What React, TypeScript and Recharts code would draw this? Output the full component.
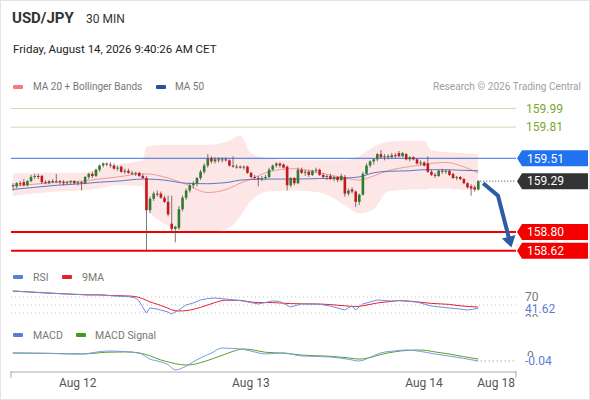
import React from 'react';
import {
  Area, Bar, ComposedChart, Line, ReferenceLine, XAxis, YAxis,
} from 'recharts';

const FONT = 'Roboto, "Liberation Sans", Arial, sans-serif';
const SLOTS = 140;
const X_DOMAIN: [number, number] = [-0.5, SLOTS - 0.5];
const PRICE_DOMAIN: [number, number] = [158.54, 160.11];

// 30 min candles, [open, high, low, close]
const candles: number[][] = [
  [159.24, 159.27, 159.20, 159.25], [159.24, 159.28, 159.22, 159.27], [159.27, 159.29, 159.24, 159.26],
  [159.28, 159.31, 159.24, 159.25], [159.25, 159.30, 159.24, 159.29], [159.29, 159.35, 159.28, 159.33],
  [159.33, 159.36, 159.31, 159.34], [159.34, 159.36, 159.31, 159.33], [159.34, 159.35, 159.26, 159.28],
  [159.28, 159.30, 159.26, 159.27], [159.27, 159.30, 159.26, 159.29], [159.29, 159.31, 159.27, 159.28],
  [159.28, 159.36, 159.27, 159.29], [159.29, 159.30, 159.26, 159.28], [159.28, 159.30, 159.25, 159.27],
  [159.27, 159.29, 159.26, 159.28], [159.28, 159.30, 159.26, 159.29], [159.29, 159.30, 159.26, 159.27],
  [159.27, 159.29, 159.25, 159.28], [159.28, 159.29, 159.20, 159.27], [159.27, 159.34, 159.26, 159.33],
  [159.33, 159.37, 159.31, 159.36], [159.36, 159.38, 159.32, 159.34], [159.34, 159.41, 159.33, 159.40],
  [159.40, 159.45, 159.38, 159.44], [159.44, 159.47, 159.42, 159.46], [159.46, 159.47, 159.43, 159.45],
  [159.45, 159.47, 159.42, 159.44], [159.44, 159.46, 159.40, 159.41], [159.41, 159.44, 159.39, 159.42],
  [159.43, 159.44, 159.37, 159.38], [159.38, 159.41, 159.36, 159.39], [159.39, 159.41, 159.36, 159.37],
  [159.37, 159.39, 159.35, 159.36], [159.36, 159.38, 159.34, 159.37], [159.37, 159.38, 159.33, 159.34],
  [159.34, 159.36, 159.31, 159.32], [159.32, 159.34, 158.62, 159.01], [159.01, 159.14, 158.98, 159.12],
  [159.12, 159.19, 159.10, 159.17], [159.17, 159.20, 159.14, 159.16], [159.17, 159.19, 159.12, 159.13],
  [159.13, 159.15, 159.08, 159.09], [159.09, 159.15, 158.95, 158.97], [158.88, 159.15, 158.80, 158.83],
  [158.83, 158.86, 158.70, 158.85], [158.84, 159.05, 158.82, 159.02], [159.02, 159.15, 159.00, 159.13],
  [159.13, 159.22, 159.11, 159.20], [159.20, 159.27, 159.18, 159.25], [159.25, 159.29, 159.22, 159.27],
  [159.27, 159.33, 159.24, 159.32], [159.32, 159.40, 159.30, 159.38], [159.38, 159.46, 159.36, 159.44],
  [159.44, 159.55, 159.42, 159.51], [159.51, 159.53, 159.46, 159.48], [159.48, 159.52, 159.46, 159.50],
  [159.50, 159.52, 159.47, 159.49], [159.49, 159.52, 159.47, 159.50], [159.50, 159.52, 159.48, 159.49],
  [159.49, 159.50, 159.43, 159.44], [159.44, 159.53, 159.42, 159.43], [159.43, 159.45, 159.41, 159.43],
  [159.43, 159.44, 159.41, 159.42], [159.42, 159.44, 159.40, 159.43], [159.43, 159.44, 159.36, 159.37],
  [159.37, 159.38, 159.32, 159.33], [159.33, 159.35, 159.30, 159.32], [159.32, 159.34, 159.24, 159.31],
  [159.31, 159.34, 159.29, 159.32], [159.32, 159.35, 159.30, 159.33], [159.33, 159.42, 159.32, 159.40],
  [159.40, 159.45, 159.39, 159.44], [159.44, 159.47, 159.42, 159.46], [159.46, 159.47, 159.42, 159.44],
  [159.45, 159.46, 159.41, 159.42], [159.43, 159.44, 159.20, 159.25], [159.25, 159.33, 159.23, 159.32],
  [159.32, 159.33, 159.25, 159.27], [159.27, 159.42, 159.26, 159.40], [159.40, 159.42, 159.36, 159.37],
  [159.37, 159.40, 159.34, 159.38], [159.38, 159.40, 159.33, 159.35], [159.35, 159.40, 159.34, 159.39],
  [159.39, 159.42, 159.37, 159.40], [159.40, 159.41, 159.34, 159.35], [159.35, 159.37, 159.31, 159.33],
  [159.33, 159.35, 159.30, 159.34], [159.34, 159.36, 159.30, 159.31], [159.31, 159.34, 159.29, 159.33],
  [159.33, 159.34, 159.28, 159.30], [159.30, 159.36, 159.29, 159.34], [159.33, 159.35, 159.14, 159.17],
  [159.17, 159.22, 159.15, 159.20], [159.21, 159.23, 159.17, 159.19], [159.19, 159.20, 159.04, 159.09],
  [159.09, 159.17, 159.06, 159.16], [159.16, 159.38, 159.15, 159.36], [159.36, 159.46, 159.35, 159.44],
  [159.44, 159.49, 159.42, 159.48], [159.48, 159.51, 159.45, 159.50], [159.50, 159.56, 159.48, 159.55],
  [159.55, 159.59, 159.51, 159.52], [159.52, 159.55, 159.49, 159.53], [159.53, 159.55, 159.50, 159.52],
  [159.52, 159.56, 159.51, 159.54], [159.54, 159.56, 159.51, 159.53], [159.56, 159.58, 159.52, 159.53],
  [159.53, 159.57, 159.52, 159.56], [159.55, 159.56, 159.49, 159.50], [159.50, 159.53, 159.48, 159.52],
  [159.52, 159.53, 159.49, 159.50], [159.50, 159.51, 159.45, 159.46], [159.46, 159.49, 159.44, 159.47],
  [159.47, 159.48, 159.43, 159.44], [159.46, 159.53, 159.37, 159.38], [159.38, 159.40, 159.34, 159.35],
  [159.35, 159.37, 159.32, 159.34], [159.34, 159.40, 159.33, 159.39], [159.39, 159.41, 159.36, 159.38],
  [159.38, 159.40, 159.36, 159.39], [159.39, 159.40, 159.34, 159.35], [159.36, 159.37, 159.31, 159.32],
  [159.32, 159.34, 159.30, 159.33], [159.33, 159.34, 159.30, 159.31], [159.31, 159.32, 159.26, 159.27],
  [159.27, 159.28, 159.22, 159.23], [159.24, 159.26, 159.15, 159.22], [159.23, 159.25, 159.19, 159.21],
  [159.21, 159.30, 159.20, 159.29],
];

// MA 20 + Bollinger Bands and MA 50, read at these candle positions
const bandIdx = [0, 6, 12, 19, 24, 29, 36, 37, 42, 48, 54, 57, 60, 63, 66, 71, 78, 85, 92, 96, 100, 104, 110, 114, 116, 120, 124, 129];
const bbUpper = [159.36, 159.37, 159.37, 159.37, 159.41, 159.45, 159.49, 159.62, 159.64, 159.64, 159.64, 159.65, 159.68, 159.73,
  159.56, 159.51, 159.49, 159.49, 159.49, 159.53, 159.62, 159.67, 159.68, 159.68, 159.59, 159.57, 159.56, 159.55];
const bbLower = [159.15, 159.17, 159.19, 159.20, 159.22, 159.25, 159.24, 159.05, 158.88, 158.81, 158.81, 158.81, 158.84, 158.95,
  159.10, 159.19, 159.20, 159.18, 159.06, 158.98, 159.02, 159.19, 159.21, 159.21, 159.22, 159.22, 159.21, 159.20];
const ma20 = [159.245, 159.26, 159.28, 159.29, 159.31, 159.33, 159.36, 159.36, 159.33, 159.26, 159.18, 159.19, 159.22, 159.27,
  159.31, 159.38, 159.41, 159.37, 159.32, 159.30, 159.34, 159.39, 159.43, 159.45, 159.46, 159.47, 159.44, 159.37];
const ma50 = [159.21, 159.23, 159.25, 159.265, 159.28, 159.29, 159.31, 159.31, 159.30, 159.27, 159.265, 159.27, 159.28, 159.30,
  159.305, 159.31, 159.31, 159.315, 159.32, 159.33, 159.37, 159.385, 159.39, 159.40, 159.40, 159.40, 159.395, 159.39];

const resistances = [159.99, 159.81];
const pivot = 159.51;
const lastPrice = 159.29;
const supports = [158.8, 158.62];

const arrowIdx = [130.4, 134.5, 137.6];
const arrowPrice = [159.27, 159.15, 158.735];

const rsiIdx = [0, 7, 15, 21, 24, 28, 32, 34, 35, 37, 38, 40, 41, 43, 44, 46, 48, 50, 52, 54, 56, 59, 63, 65, 68, 72, 74, 77,
  80, 85, 88, 92, 94, 95, 97, 101, 105, 107, 112, 116, 121, 124, 126, 129];
const rsiValues = [85, 81, 77.5, 75, 76, 72.5, 71, 67.5, 60, 30, 42.5, 40, 37.5, 32.5, 27.5, 37.5, 50, 55, 62.5, 66, 67.5, 65, 61,
  58, 52.5, 60, 59, 45, 52.5, 52, 47.5, 37.5, 47.5, 37.5, 52.5, 62.5, 60, 61, 57.5, 47.5, 42.5, 40, 37.5, 41.62];
const rsiMa = [85, 81.5, 77.5, 75.5, 75, 73.5, 72.5, 71, 69, 62, 58, 52, 49, 42, 38, 35, 36, 39, 44, 50, 56, 62, 61.5, 59, 56, 56,
  55, 53.5, 53, 52.5, 51, 48, 46.5, 46, 48, 55, 59, 61, 58, 54, 51.5, 48, 46.5, 45];
const rsiLast = 41.62;

const macdIdx = [0, 10, 19, 26, 31, 35, 38, 41, 43, 45, 48, 50, 52, 55, 58, 61, 64, 67, 70, 75, 80, 88, 93, 96, 100, 102, 106,
  109, 113, 117, 121, 125, 129];
const macdValues = [0.006, 0.003, 0, 0.017, 0.014, 0.006, -0.029, -0.045, -0.06, -0.091, -0.07, -0.045, -0.023, 0.005, 0.034,
  0.032, 0.026, 0.012, 0, 0.006, -0.011, -0.017, -0.03, -0.04, -0.01, 0.006, 0.018, 0.023, 0.015, 0, -0.012, -0.025, -0.04];
const macdSignal = [0.006, 0.004, 0, 0.01, 0.012, 0.006, -0.01, -0.034, -0.045, -0.055, -0.063, -0.06, -0.05, -0.03, -0.008,
  0.015, 0.029, 0.022, 0.01, 0.005, -0.006, -0.013, -0.022, -0.029, -0.015, -0.003, 0.013, 0.02, 0.023, 0.012, 0, -0.015, -0.029];
const macdLast = -0.04;

const dateTicks = [18, 66, 114, 134];
const dateLabels = ['Aug 12', 'Aug 13', 'Aug 14', 'Aug 18'];

const candleRows = Array.from({ length: SLOTS }, (_, i) => {
  const c = candles[i];
  return c ? { i, o: c[0], h: c[1], l: c[2], c: c[3] } : { i };
});
const bandRows = bandIdx.map((i, k) => ({
  i, up: bbUpper[k], lo: bbLower[k], ma20: ma20[k], ma50: ma50[k],
}));
const arrowRows = arrowIdx.map((i, k) => ({ i, p: arrowPrice[k] }));
const rsiRows = rsiIdx.map((i, k) => ({ i, rsi: rsiValues[k], ma: rsiMa[k] }));
const macdRows = macdIdx.map((i, k) => ({ i, macd: macdValues[k], signal: macdSignal[k] }));

const MAIN_MARGIN = { top: 95, right: 75, bottom: 7, left: 10 };

function Candle(props: any) {
  const { x, y, width, height, payload } = props;
  if (payload == null || payload.h == null) return null;
  const { o, h, l, c } = payload;
  const span = h - l || 1;
  const py = (v: number) => y + ((h - v) / span) * height;
  const cx = x + width / 2;
  const top = py(Math.max(o, c));
  const bot = py(Math.min(o, c));
  return (
    <g>
      <line x1={cx} x2={cx} y1={y} y2={y + height} stroke="#555" strokeWidth={0.8} />
      <rect x={cx - 1.3} y={top} width={2.6} height={Math.max(bot - top, 1)} fill={c >= o ? '#2e7d2e' : '#c8161d'} />
    </g>
  );
}

function PriceTag({ viewBox, text, bg }: any) {
  if (!viewBox) return null;
  const x0 = viewBox.x + viewBox.width + 1;
  const y = viewBox.y;
  const pts = `${x0},${y} ${x0 + 5},${y - 8} ${x0 + 71},${y - 8} ${x0 + 71},${y + 8} ${x0 + 5},${y + 8}`;
  return (
    <g>
      <polygon points={pts} fill={bg} />
      <text x={x0 + 10} y={y} dy="0.36em" fill="#fff" fontSize={12} fontFamily={FONT}>{text}</text>
    </g>
  );
}

function SideText({ viewBox, text }: any) {
  if (!viewBox) return null;
  return (
    <text x={viewBox.x + viewBox.width + 10} y={viewBox.y} dy="0.36em" fill="#78a82e" fontSize={12} fontFamily={FONT}>
      {text}
    </text>
  );
}

function ArrowHead(props: any) {
  const { cx, cy, index, points } = props;
  if (points == null || index !== points.length - 1) return null;
  const prev = points[index - 1];
  const ang = Math.atan2(cy - prev.y, cx - prev.x);
  const tipX = cx + Math.cos(ang) * 9;
  const tipY = cy + Math.sin(ang) * 9;
  const nx = -Math.sin(ang) * 7;
  const ny = Math.cos(ang) * 7;
  const bx = cx - Math.cos(ang) * 2;
  const by = cy - Math.sin(ang) * 2;
  return <polygon points={`${tipX},${tipY} ${bx + nx},${by + ny} ${bx - nx},${by - ny}`} fill="#2d5ca6" />;
}

function RsiTick({ x, y, payload }: any) {
  const v = payload.value;
  if (Math.abs(v - rsiLast) < 0.001) {
    return <text x={x + 1} y={y} dy="0.36em" fill="#5b7bd5" fontSize={12} fontFamily={FONT}>{v.toFixed(2)}</text>;
  }
  return <text x={x + 1} y={v === 30 ? y + 6 : y} dy="0.36em" fill="#777" fontSize={12} fontFamily={FONT}>{v}</text>;
}

function MacdTick({ x, y, payload }: any) {
  const v = payload.value;
  if (v === 0) {
    return <text x={x + 3} y={y + 2} dy="0.36em" fill="#777" fontSize={12} fontFamily={FONT}>0</text>;
  }
  return (
    <g>
      <rect x={x} y={y - 5} width={45} height={14} fill="#fff" />
      <text x={x + 1} y={y} dy="0.36em" fill="#5b7bd5" fontSize={12} fontFamily={FONT}>{v.toFixed(2)}</text>
    </g>
  );
}

function DateTick({ x, y, payload }: any) {
  const k = dateTicks.indexOf(payload.value);
  if (k < 0) return <line x1={x} x2={x} y1={y - 9} y2={y - 2} stroke="#aaa" />;
  return <text x={x} y={y + 7} textAnchor="middle" fill="#555" fontSize={12} fontFamily={FONT}>{dateLabels[k]}</text>;
}

const abs = (left: number, top: number, extra: React.CSSProperties = {}): React.CSSProperties => ({
  position: 'absolute', left, top, whiteSpace: 'nowrap', lineHeight: 1, ...extra,
});

function Swatch({ left, top, color }: { left: number; top: number; color: string }) {
  return <div style={abs(left, top, { width: 10, height: 4, background: color, borderRadius: 1 })} />;
}

export default function App() {
  return (
    <div style={{
      position: 'absolute', left: 0, top: 0, width: 590, height: 400, boxSizing: 'border-box',
      border: '1px solid #e4e4e4', background: '#fff', fontFamily: FONT, overflow: 'hidden',
    }}
    >
      <div style={abs(11, 10, { fontSize: 15, fontWeight: 700, color: '#333' })}>USD/JPY</div>
      <div style={abs(85, 12, { fontSize: 12, color: '#333' })}>30 MIN</div>
      <div style={abs(12, 43, { fontSize: 11.5, color: '#222' })}>Friday, August 14, 2026 9:40:26 AM CET</div>

      <Swatch left={12} top={84} color="#f47c7c" />
      <div style={abs(32, 81, { fontSize: 10, color: '#777' })}>MA 20 + Bollinger Bands</div>
      <Swatch left={155} top={84} color="#2b4f9c" />
      <div style={abs(174, 81, { fontSize: 10, color: '#777' })}>MA 50</div>
      <div style={abs(0, 81, { fontSize: 10.1, color: '#a0a0a0', left: 'auto', right: 8 })}>Research © 2026 Trading Central</div>

      <div style={abs(0, 0)}>
        <ComposedChart width={590} height={265} data={bandRows} margin={MAIN_MARGIN}>
          <XAxis type="number" dataKey="i" domain={X_DOMAIN} hide allowDataOverflow />
          <YAxis domain={PRICE_DOMAIN} hide allowDataOverflow />
          <Area
            dataKey={(d: any) => [d.lo, d.up]}
            type="monotone"
            stroke="none"
            fill="#fcd6d6"
            fillOpacity={0.6}
            isAnimationActive={false}
          />
          {resistances.map((p) => (
            <ReferenceLine key={p} y={p} stroke="#c8dfad" label={<SideText text={p.toFixed(2)} />} />
          ))}
          <ReferenceLine y={pivot} stroke="#3b6fd6" label={<PriceTag text={pivot.toFixed(2)} bg="#2172ee" />} />
          {supports.map((p) => (
            <ReferenceLine key={p} y={p} stroke="#f00000" strokeWidth={2} label={<PriceTag text={p.toFixed(2)} bg="#f40000" />} />
          ))}
          <ReferenceLine y={lastPrice} stroke="none" label={<PriceTag text={lastPrice.toFixed(2)} bg="#333333" />} />
          <ReferenceLine
            segment={[{ x: 129.6, y: lastPrice }, { x: SLOTS - 0.5, y: lastPrice }]}
            stroke="#333"
            strokeDasharray="1 2"
          />
          <Line dataKey="ma20" type="monotone" stroke="#f29a9a" strokeWidth={1} dot={false} isAnimationActive={false} />
          <Line dataKey="ma50" type="monotone" stroke="#5a78c8" strokeWidth={1} dot={false} isAnimationActive={false} />
        </ComposedChart>
      </div>

      <div style={abs(0, 0)}>
        <ComposedChart width={590} height={265} data={candleRows} margin={MAIN_MARGIN} barCategoryGap={0}>
          <XAxis dataKey="i" type="category" hide />
          <YAxis domain={PRICE_DOMAIN} hide allowDataOverflow />
          <Bar
            dataKey={(d: any) => (d.h == null ? undefined : [d.l, d.h])}
            shape={(p: any) => <Candle {...p} />}
            isAnimationActive={false}
          />
        </ComposedChart>
      </div>

      <div style={abs(0, 0)}>
        <ComposedChart width={590} height={265} data={arrowRows} margin={MAIN_MARGIN}>
          <XAxis type="number" dataKey="i" domain={X_DOMAIN} hide allowDataOverflow />
          <YAxis domain={PRICE_DOMAIN} hide allowDataOverflow />
          <Line
            dataKey="p"
            type="linear"
            stroke="#2d5ca6"
            strokeWidth={4}
            dot={(p: any) => <ArrowHead key={`a${p.index}`} {...p} />}
            isAnimationActive={false}
          />
        </ComposedChart>
      </div>

      <Swatch left={12} top={274} color="#5b7fd6" />
      <div style={abs(32, 272, { fontSize: 10.5, color: '#777' })}>RSI</div>
      <Swatch left={61} top={274} color="#e8202a" />
      <div style={abs(81, 272, { fontSize: 10.5, color: '#777' })}>9MA</div>

      <div style={abs(0, 270, { width: 590, height: 46, overflow: 'hidden' })}>
        <ComposedChart width={590} height={46} data={rsiRows} margin={{ top: 16, right: 0, bottom: 0, left: 10 }}>
          <XAxis type="number" dataKey="i" domain={X_DOMAIN} hide allowDataOverflow />
          <YAxis
            orientation="right"
            width={75}
            domain={[20, 95]}
            ticks={[30, rsiLast, 70]}
            interval={0}
            axisLine={false}
            tickLine={false}
            tick={<RsiTick />}
            allowDataOverflow
          />
          {[70, 50, 30].map((v) => (
            <ReferenceLine key={v} y={v} stroke="#c4c4c4" strokeDasharray="1 3" />
          ))}
          <Line dataKey="ma" type="monotone" stroke="#e8202a" strokeWidth={1} dot={false} isAnimationActive={false} />
          <Line dataKey="rsi" type="linear" stroke="#6f8fe0" strokeWidth={1} dot={false} isAnimationActive={false} />
        </ComposedChart>
      </div>

      <Swatch left={12} top={332} color="#5b7fd6" />
      <div style={abs(32, 330, { fontSize: 10.5, color: '#777' })}>MACD</div>
      <Swatch left={75} top={332} color="#3d9c1d" />
      <div style={abs(94, 330, { fontSize: 10.5, color: '#777' })}>MACD Signal</div>

      <div style={abs(0, 326)}>
        <ComposedChart width={590} height={74} data={macdRows} margin={{ top: 16, right: 0, bottom: 0, left: 10 }}>
          <XAxis
            type="number"
            dataKey="i"
            domain={X_DOMAIN}
            ticks={[X_DOMAIN[0], ...dateTicks, X_DOMAIN[1]]}
            interval={0}
            height={29}
            stroke="#aaa"
            tickLine={false}
            tick={<DateTick />}
            allowDataOverflow
          />
          <YAxis
            orientation="right"
            width={75}
            domain={[-0.103, 0.063]}
            ticks={[0, macdLast]}
            interval={0}
            axisLine={false}
            tickLine={false}
            tick={<MacdTick />}
            allowDataOverflow
          />
          <ReferenceLine
            segment={[{ x: 128.6, y: macdLast }, { x: SLOTS - 0.5, y: macdLast }]}
            stroke="#888"
            strokeDasharray="1 3"
          />
          <Line dataKey="signal" type="monotone" stroke="#5aa02c" strokeWidth={1} dot={false} isAnimationActive={false} />
          <Line dataKey="macd" type="monotone" stroke="#7b9be0" strokeWidth={1} dot={false} isAnimationActive={false} />
        </ComposedChart>
      </div>
    </div>
  );
}
